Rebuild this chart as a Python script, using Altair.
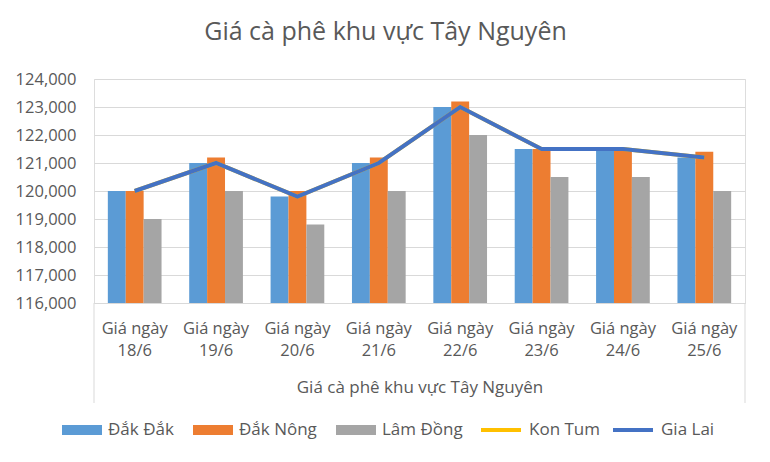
import altair as alt
import pandas as pd

categories = ["Giá ngày 18/6", "Giá ngày 19/6", "Giá ngày 20/6", "Giá ngày 21/6",
              "Giá ngày 22/6", "Giá ngày 23/6", "Giá ngày 24/6", "Giá ngày 25/6"]
dak_dak = [120000, 121000, 119800, 121000, 123000, 121500, 121500, 121200]
dak_nong = [120000, 121200, 120000, 121200, 123200, 121500, 121500, 121400]
lam_dong = [119000, 120000, 118800, 120000, 122000, 120500, 120500, 120000]
kon_tum = [120000, 121000, 119800, 121000, 123000, 121500, 121500, 121200]
gia_lai = [120000, 121000, 119800, 121000, 123000, 121500, 121500, 121200]

bar_series = ["Đắk Đắk", "Đắk Nông", "Lâm Đồng"]
bar_colors = ["#5B9BD5", "#ED7D31", "#A5A5A5"]
line_series = ["Kon Tum", "Gia Lai"]
line_colors = ["#FFC000", "#4472C4"]
y_ticks = [116000, 117000, 118000, 119000, 120000, 121000, 122000, 123000, 124000]

bar_rows = []
for s, vals in zip(bar_series, [dak_dak, dak_nong, lam_dong]):
    for c, v in zip(categories, vals):
        bar_rows.append({"category": c, "series": s, "value": v})
bar_df = pd.DataFrame(bar_rows)
kt_df = pd.DataFrame({"category": categories, "series": "Kon Tum", "value": kon_tum})
gl_df = pd.DataFrame({"category": categories, "series": "Gia Lai", "value": gia_lai})

TXT = "#595959"
FONT = "Open Sans"
W, H = 651, 224

fill_scale = alt.Scale(domain=bar_series, range=bar_colors)
stroke_scale = alt.Scale(domain=line_series, range=line_colors)
x_scale = alt.Scale(paddingInner=0.34, paddingOuter=0.17)
y_scale = alt.Scale(domain=[116000, 124000], zero=False)

common_leg = dict(title=None, orient="none", direction="horizontal",
                  labelFontSize=17, labelColor=TXT, labelFont=FONT,
                  labelOffset=6, symbolSize=1600)
fill_legend = alt.Legend(legendX=-32, legendY=331, symbolType="M-1,-0.25H1V0.25H-1Z",
                         symbolStrokeWidth=0, columnPadding=19, **common_leg)
stroke_legend = alt.Legend(legendX=385, legendY=329, symbolType="stroke",
                           symbolStrokeWidth=4, columnPadding=4, **common_leg)

x_enc = alt.X(
    "category:N", sort=categories, scale=x_scale,
    title="Giá cà phê khu vực Tây Nguyên",
    axis=alt.Axis(
        labelAngle=0, ticks=False, domainColor="#D9D9D9", labelPadding=17,
        labelExpr="[split(datum.label,' ')[0] + ' ' + split(datum.label,' ')[1], split(datum.label,' ')[2]]",
        labelLineHeight=22, labelFontSize=16.5, labelColor=TXT, labelFont=FONT,
        titleFontSize=17, titleFontWeight="normal", titleColor=TXT, titleFont=FONT,
        titlePadding=21,
    ),
)
y_enc = alt.Y(
    "value:Q", scale=y_scale, title=None,
    axis=alt.Axis(values=y_ticks, format=",.0f", domain=False, ticks=False,
                  gridColor="#D9D9D9", labelFontSize=16.5, labelColor=TXT,
                  labelFont=FONT, labelPadding=18, labelOverlap=False),
)

bars = alt.Chart(bar_df).mark_bar().encode(
    x=x_enc,
    xOffset=alt.XOffset("series:N", sort=bar_series,
                        scale=alt.Scale(paddingInner=0, paddingOuter=0)),
    y=y_enc,
    y2=alt.datum(116000),
    fill=alt.Fill("series:N", scale=fill_scale, legend=fill_legend),
)

line_kt = alt.Chart(kt_df).mark_line(strokeWidth=4).encode(
    x=x_enc, y=y_enc,
    stroke=alt.Stroke("series:N", scale=stroke_scale, legend=stroke_legend),
)
line_gl = alt.Chart(gl_df).mark_line(strokeWidth=4).encode(
    x=x_enc, y=y_enc,
    stroke=alt.Stroke("series:N", scale=stroke_scale, legend=stroke_legend),
)

box_left = alt.Chart(pd.DataFrame({"k": [0]})).mark_rule(color="#D9D9D9", strokeWidth=1).encode(
    x=alt.value(0), y=alt.value(H), y2=alt.value(H + 100))
box_right = alt.Chart(pd.DataFrame({"k": [0]})).mark_rule(color="#D9D9D9", strokeWidth=1).encode(
    x=alt.value(W), y=alt.value(H), y2=alt.value(H + 100))

chart = alt.layer(bars, line_kt, line_gl, box_left, box_right).properties(
    width=W, height=H,
    title=alt.TitleParams("Giá cà phê khu vực Tây Nguyên", fontSize=25, font=FONT,
                          color=TXT, fontWeight="normal", anchor="middle",
                          dx=-34, offset=26),
    autosize=alt.AutoSizeParams(type="none"),
    padding={"left": 86, "top": 71, "right": 17, "bottom": 151},
).configure_view(stroke=None).configure(font=FONT)

chart.save("out.html", embed_options={"renderer": "svg", "actions": False})
